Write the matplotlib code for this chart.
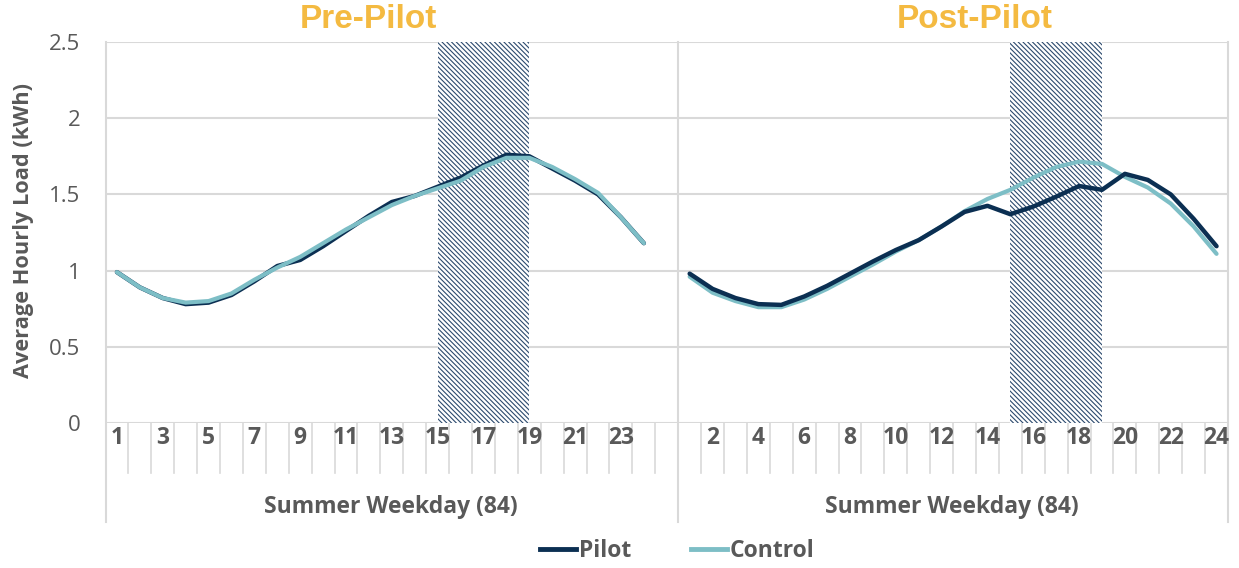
import matplotlib
matplotlib.use("Agg")
import matplotlib.pyplot as plt
from matplotlib.lines import Line2D
import matplotlib.transforms as mtransforms

# ---------------- data ----------------
hours = list(range(1, 25))
panel_titles = ["Pre-Pilot", "Post-Pilot"]
xaxis_title = "Summer Weekday (84)"
ylabel = "Average Hourly Load (kWh)"

pre_pilot = [0.99, 0.89, 0.82, 0.78, 0.79, 0.84, 0.93, 1.03, 1.07, 1.16, 1.26, 1.36,
             1.45, 1.49, 1.55, 1.61, 1.69, 1.76, 1.75, 1.67, 1.59, 1.50, 1.35, 1.18]
pre_control = [0.99, 0.89, 0.82, 0.79, 0.80, 0.85, 0.94, 1.02, 1.09, 1.18, 1.27, 1.35,
               1.43, 1.49, 1.54, 1.59, 1.68, 1.74, 1.74, 1.68, 1.60, 1.51, 1.35, 1.18]
post_pilot = [0.98, 0.88, 0.82, 0.78, 0.775, 0.83, 0.90, 0.98, 1.06, 1.135, 1.20, 1.29,
              1.385, 1.425, 1.37, 1.42, 1.485, 1.555, 1.53, 1.635, 1.595, 1.50, 1.34, 1.16]
post_control = [0.96, 0.855, 0.80, 0.76, 0.76, 0.81, 0.88, 0.96, 1.04, 1.125, 1.20, 1.29,
                1.39, 1.47, 1.53, 1.61, 1.68, 1.715, 1.70, 1.615, 1.545, 1.44, 1.29, 1.11]

peak_start_hour = 15
peak_end_hour = 19
pre_labels = [1, 3, 5, 7, 9, 11, 13, 15, 17, 19, 21, 23]
post_labels = [2, 4, 6, 8, 10, 12, 14, 16, 18, 20, 22, 24]
yticks = [0, 0.5, 1, 1.5, 2, 2.5]
ytick_labels = ["0", "0.5", "1", "1.5", "2", "2.5"]

# ---------------- style ----------------
PILOT = "#0B2F52"
CONTROL = "#7DBEC6"
HATCH = "#2C4A6E"
GRAY_TXT = "#595959"
GRID = "#D9D9D9"
TITLE = "#F4BA41"
FONT = "Open Sans"
BSL = chr(92)

plt.rcParams["hatch.linewidth"] = 0.8

W, H = 1239, 568
fig = plt.figure(figsize=(W / 100, H / 100), dpi=100)
left, right, top, bottom = 105.5, 1228, 42, 423
ax = fig.add_axes([left / W, 1 - bottom / H, (right - left) / W, (bottom - top) / H])

n_pre = len(hours) + 1  # one empty category before the group divider
pre_x = [h - 1 for h in hours]
post_x = [n_pre + h - 1 for h in hours]
ncat = n_pre + len(hours)

ax.set_xlim(-0.5, ncat - 0.5)
ax.set_ylim(0, 2.5)

# peak-period hatched bands
for off in (0, n_pre):
    ax.axvspan(off + peak_start_hour - 1, off + peak_end_hour - 1, ymin=0, ymax=1,
               facecolor="white", edgecolor=HATCH, linewidth=0,
               hatch=BSL * 7, zorder=1)

# horizontal gridlines
for yv in yticks:
    ax.axhline(yv, color=GRID, lw=1.5, zorder=0.5)

# lines
ax.plot(pre_x, pre_pilot, color=PILOT, lw=3.2, zorder=3, solid_capstyle="round")
ax.plot(pre_x, pre_control, color=CONTROL, lw=3.0, zorder=4, solid_capstyle="round")
ax.plot(post_x, post_control, color=CONTROL, lw=3.0, zorder=3, solid_capstyle="round")
ax.plot(post_x, post_pilot, color=PILOT, lw=3.2, zorder=4, solid_capstyle="round")

for s in ax.spines.values():
    s.set_visible(False)

# category tick lines and group dividers
trans = mtransforms.blended_transform_factory(ax.transData, ax.transAxes)
ah = bottom - top
short = -50 / ah
long_ = -99 / ah
for b in range(ncat + 1):
    xb = b - 0.5
    if b in (0, n_pre, ncat):
        ax.add_line(Line2D([xb, xb], [long_, 1], transform=trans, color=GRID,
                           lw=1.5, clip_on=False, zorder=0.5))
    else:
        ax.add_line(Line2D([xb, xb], [short, 0], transform=trans, color=GRID,
                           lw=1.2, clip_on=False, zorder=0.5))

xt = [h - 1 for h in pre_labels] + [n_pre + h - 1 for h in post_labels]
xl = [str(h) for h in pre_labels] + [str(h) for h in post_labels]
ax.set_xticks(xt, xl)
ax.tick_params(axis="x", length=0, pad=2, labelsize=16.5, labelcolor=GRAY_TXT)
for t in ax.get_xticklabels():
    t.set_fontfamily(FONT)
    t.set_fontweight("bold")

ax.set_yticks(yticks, ytick_labels)
ax.tick_params(axis="y", length=0, pad=18, labelsize=16, labelcolor=GRAY_TXT)
for t in ax.get_yticklabels():
    t.set_fontfamily(FONT)

# axis titles
fig.text(391 / W, 1 - 507 / H, xaxis_title, ha="center", va="center",
         fontsize=16.5, fontweight="bold", color=GRAY_TXT, family=FONT)
fig.text(952 / W, 1 - 507 / H, xaxis_title, ha="center", va="center",
         fontsize=16.5, fontweight="bold", color=GRAY_TXT, family=FONT)
fig.text(24 / W, 1 - 230 / H, ylabel, ha="center", va="center", rotation=90,
         fontsize=15.7, fontweight="bold", color=GRAY_TXT, family=FONT)

# panel titles
fig.text(368 / W, 1 - 20 / H, panel_titles[0], ha="center", va="center",
         fontsize=24, fontweight="bold", color=TITLE, family="Liberation Sans")
fig.text(975 / W, 1 - 20 / H, panel_titles[1], ha="center", va="center",
         fontsize=24, fontweight="bold", color=TITLE, family="Liberation Sans")

# legend
handles = [Line2D([], [], color=PILOT, lw=3.5), Line2D([], [], color=CONTROL, lw=3.5)]
leg = fig.legend(handles, ["Pilot", "Control"], loc="center",
                 bbox_to_anchor=(677 / W, 1 - 551 / H), ncol=2, frameon=False,
                 handlelength=1.6, handletextpad=0.1, columnspacing=2.6,
                 prop={"family": FONT, "weight": "bold", "size": 16.5})
for t in leg.get_texts():
    t.set_color(GRAY_TXT)

fig.savefig("out.png", dpi=100, facecolor="white")
